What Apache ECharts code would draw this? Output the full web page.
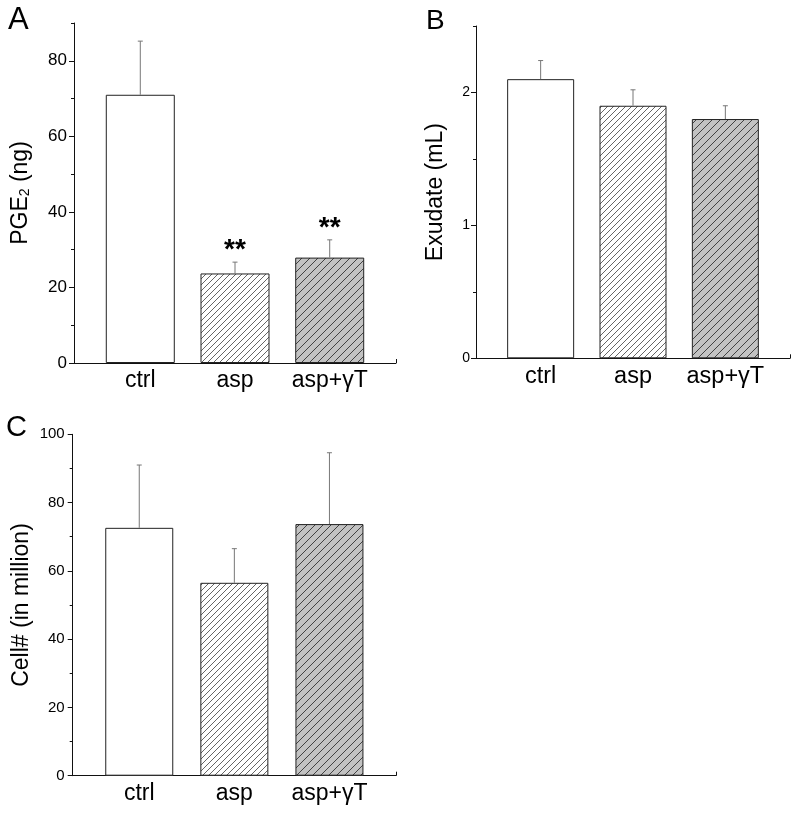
<!DOCTYPE html>
<html>
<head>
<meta charset="utf-8">
<script src="https://cdn.jsdelivr.net/npm/echarts@6/dist/echarts.min.js"></script>
<style>
html,body{margin:0;padding:0;background:#fff;}
#chart{width:800px;height:817px;}
</style>
</head>
<body>
<div id="chart"></div>
<script>
// ---- data ----
const categories = ['ctrl', 'asp', 'asp+γT'];
const xPos = [1, 2, 3];
const pgeMean = [71.0, 23.7, 27.9];
const pgeErr = [14.2, 3.0, 4.7];
const pgeSig = ['', '**', '**'];
const exuMean = [2.10, 1.90, 1.80];
const exuErr = [0.14, 0.12, 0.10];
const cellMean = [72.6, 56.5, 73.7];
const cellErr = [18.4, 10.0, 20.9];
const pgeLabels = [0, 20, 40, 60, 80];
const exuLabels = [0, 1, 2];
const cellLabels = [0, 20, 40, 60, 80, 100];

const FONT = '"Liberation Sans", Arial, sans-serif';

function hatch(spacing, bg, lineColor) {
  const c = document.createElement('canvas');
  c.width = spacing; c.height = spacing;
  const ctx = c.getContext('2d');
  if (bg) { ctx.fillStyle = bg; ctx.fillRect(0, 0, spacing, spacing); }
  ctx.strokeStyle = lineColor; ctx.lineWidth = 0.9;
  ctx.beginPath();
  ctx.moveTo(0, spacing); ctx.lineTo(spacing, 0);
  ctx.moveTo(-spacing, spacing); ctx.lineTo(0, 0);
  ctx.moveTo(spacing, 2 * spacing); ctx.lineTo(2 * spacing, spacing);
  ctx.stroke();
  return { image: c, repeat: 'repeat' };
}
const fills = ['#ffffff', hatch(6, '#ffffff', '#555'), hatch(8, '#c2c2c2', '#333')];

function barData(means) {
  return means.map((m, i) => ({
    value: [xPos[i], m],
    itemStyle: { color: fills[i], borderColor: '#222', borderWidth: 1 }
  }));
}
function errData(means, errs) {
  return means.map((m, i) => [xPos[i], m, errs[i]]);
}
function errRender(params, api) {
  const x = api.value(0), m = api.value(1), e = api.value(2);
  const p0 = api.coord([x, m]);
  const p1 = api.coord([x, m + e]);
  return {
    type: 'group',
    children: [
      { type: 'line', shape: { x1: p0[0], y1: p0[1], x2: p1[0], y2: p1[1] }, style: { stroke: '#777', lineWidth: 1 } },
      { type: 'line', shape: { x1: p1[0] - 2.5, y1: p1[1], x2: p1[0] + 2.5, y2: p1[1] }, style: { stroke: '#777', lineWidth: 1 } }
    ]
  };
}
function sigRender(params, api) {
  const x = api.value(0), m = api.value(1), e = api.value(2);
  const p1 = api.coord([x, m + e]);
  return {
    type: 'text', x: p1[0], y: p1[1] - 12,
    style: { text: pgeSig[params.dataIndex], font: 'bold 28px ' + FONT, textAlign: 'center', textVerticalAlign: 'middle', fill: '#000' }
  };
}

const grids = [
  { left: 74, top: 23, width: 322, height: 340 },
  { left: 476, top: 26, width: 314, height: 332.3 },
  { left: 72.7, top: 434.3, width: 323.3, height: 341.4 }
];

function xAxis(gi, fs) {
  return {
    gridIndex: gi, type: 'value', min: 0.3, max: 3.7,
    axisLine: { show: true, lineStyle: { color: '#111', width: 1 } },
    axisTick: { show: true, inside: true, length: 4, customValues: [2, 3.7], lineStyle: { color: '#111' } },
    axisLabel: { customValues: xPos, formatter: v => categories[Math.round(v) - 1], fontSize: fs, fontFamily: FONT, color: '#000', margin: 6 },
    splitLine: { show: false }
  };
}
function yMain(gi, max, minorInt, labels, fs, margin, name, gap, rich) {
  return {
    gridIndex: gi, type: 'value', min: 0, max: max, interval: minorInt,
    axisLine: { show: true, lineStyle: { color: '#111', width: 1 } },
    axisTick: { show: true, length: 3, lineStyle: { color: '#111' } },
    axisLabel: { customValues: labels, fontSize: fs, fontFamily: FONT, color: '#000', margin: margin },
    splitLine: { show: false },
    name: name, nameLocation: 'middle', nameGap: gap,
    nameTextStyle: Object.assign({ fontSize: 23, fontFamily: FONT, color: '#000' }, rich ? { rich: rich } : {})
  };
}
function yMajor(gi, max, labels) {
  return {
    gridIndex: gi, type: 'value', min: 0, max: max, position: 'left', offset: 0,
    axisLine: { show: false },
    axisTick: { show: true, length: 5, customValues: labels, lineStyle: { color: '#111' } },
    axisLabel: { show: false },
    splitLine: { show: false }
  };
}

const chart = echarts.init(document.getElementById('chart'), null, { renderer: 'canvas' });
chart.setOption({
  backgroundColor: '#fff',
  animation: false,
  title: [
    { text: 'A', left: 8, top: 5, padding: 0, textStyle: { fontSize: 31, fontWeight: 'normal', fontFamily: FONT, color: '#000' } },
    { text: 'B', left: 426, top: 7, padding: 0, textStyle: { fontSize: 28, fontWeight: 'normal', fontFamily: FONT, color: '#000' } },
    { text: 'C', left: 6, top: 413, padding: 0, textStyle: { fontSize: 29, fontWeight: 'normal', fontFamily: FONT, color: '#000' } }
  ],
  grid: grids,
  xAxis: [xAxis(0, 23), xAxis(1, 23.5), xAxis(2, 23)],
  yAxis: [
    yMain(0, 90, 10, pgeLabels, 17, 7, '{n|PGE}{s|2}{n| (ng)}', 42, { n: { fontSize: 23, fontFamily: FONT }, s: { fontSize: 14, fontFamily: FONT, verticalAlign: 'bottom' } }),
    yMajor(0, 90, pgeLabels),
    yMain(1, 2.5, 0.5, exuLabels, 14, 6, 'Exudate (mL)', 29),
    yMajor(1, 2.5, exuLabels),
    yMain(2, 100, 10, cellLabels, 15, 8, 'Cell# (in million)', 40),
    yMajor(2, 100, cellLabels)
  ],
  series: [
    { type: 'bar', xAxisIndex: 0, yAxisIndex: 0, barWidth: 69, data: barData(pgeMean) },
    { type: 'custom', xAxisIndex: 0, yAxisIndex: 0, renderItem: errRender, data: errData(pgeMean, pgeErr), z: 3 },
    { type: 'custom', xAxisIndex: 0, yAxisIndex: 0, renderItem: sigRender, data: errData(pgeMean, pgeErr), z: 3 },
    { type: 'bar', xAxisIndex: 1, yAxisIndex: 2, barWidth: 67, data: barData(exuMean) },
    { type: 'custom', xAxisIndex: 1, yAxisIndex: 2, renderItem: errRender, data: errData(exuMean, exuErr), z: 3 },
    { type: 'bar', xAxisIndex: 2, yAxisIndex: 4, barWidth: 68, data: barData(cellMean) },
    { type: 'custom', xAxisIndex: 2, yAxisIndex: 4, renderItem: errRender, data: errData(cellMean, cellErr), z: 3 }
  ]
});
</script>
</body>
</html>
